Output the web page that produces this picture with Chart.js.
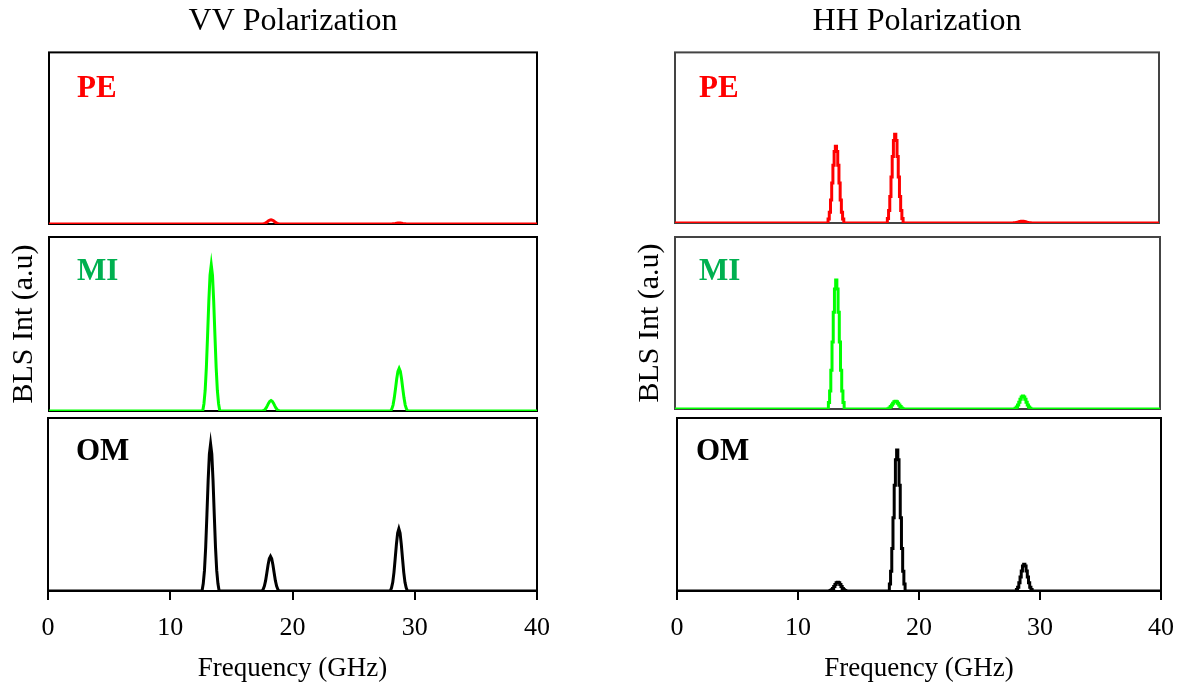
<!DOCTYPE html>
<html>
<head>
<meta charset="utf-8">
<title>BLS spectra</title>
<script src="https://cdn.jsdelivr.net/npm/chart.js@4.4.1/dist/chart.umd.min.js"></script>
<style>
  body { margin: 0; background: #fff; }
  #wrap { position: relative; width: 1184px; height: 689px; overflow: hidden; }
  .panel { position: absolute; }
</style>
</head>
<body>
<div id="wrap"></div>
<script>
// frequency grid (GHz), read around the three modes
const freq = [0,
  12.6, 12.7, 12.8, 12.9, 13.0, 13.1, 13.2, 13.3, 13.4, 13.5, 13.6, 13.7, 13.8, 13.9, 14.0,
  17.5, 17.6, 17.7, 17.8, 17.9, 18.0, 18.1, 18.2, 18.3, 18.4, 18.5, 18.6, 18.7, 18.8, 18.9,
  28.0, 28.1, 28.2, 28.3, 28.4, 28.5, 28.6, 28.7, 28.8, 28.9, 29.0, 29.1, 29.2, 29.3, 29.4,
  40];

// VV polarization (intensity, a.u. - 1 = top of panel)
const vvPE = [0,
  0, 0, 0, 0, 0, 0, 0, 0, 0, 0, 0, 0, 0, 0, 0,
  0, 0.001, 0.004, 0.008, 0.013, 0.019, 0.023, 0.025, 0.023, 0.019, 0.013, 0.008, 0.004, 0.001, 0,
  0, 0, 0.001, 0.002, 0.003, 0.005, 0.006, 0.006, 0.006, 0.005, 0.003, 0.002, 0.001, 0, 0,
  0];
const vvMI = [0,
  0, 0.042, 0.118, 0.252, 0.437, 0.63, 0.781, 0.84, 0.781, 0.63, 0.437, 0.252, 0.118, 0.042, 0,
  0, 0.003, 0.008, 0.018, 0.031, 0.045, 0.056, 0.06, 0.056, 0.045, 0.031, 0.018, 0.008, 0.003, 0,
  0, 0.012, 0.034, 0.074, 0.127, 0.184, 0.228, 0.245, 0.228, 0.184, 0.127, 0.074, 0.034, 0.012, 0,
  0];
const vvOM = [0,
  0, 0.043, 0.119, 0.255, 0.442, 0.638, 0.791, 0.85, 0.791, 0.638, 0.442, 0.255, 0.119, 0.043, 0,
  0, 0.01, 0.028, 0.06, 0.104, 0.15, 0.186, 0.2, 0.186, 0.15, 0.104, 0.06, 0.028, 0.01, 0,
  0, 0.018, 0.05, 0.108, 0.187, 0.27, 0.335, 0.36, 0.335, 0.27, 0.187, 0.108, 0.05, 0.018, 0,
  0];

// HH polarization
const hhPE = [0,
  0, 0.023, 0.063, 0.135, 0.234, 0.338, 0.419, 0.45, 0.419, 0.338, 0.234, 0.135, 0.063, 0.023, 0,
  0, 0.026, 0.073, 0.156, 0.27, 0.39, 0.484, 0.52, 0.484, 0.39, 0.27, 0.156, 0.073, 0.026, 0,
  0, 0.001, 0.001, 0.003, 0.005, 0.008, 0.009, 0.01, 0.009, 0.008, 0.005, 0.003, 0.001, 0.001, 0,
  0];
const hhMI = [0,
  0, 0.038, 0.105, 0.225, 0.39, 0.563, 0.698, 0.75, 0.698, 0.563, 0.39, 0.225, 0.105, 0.038, 0,
  0, 0.002, 0.006, 0.014, 0.023, 0.034, 0.042, 0.045, 0.042, 0.034, 0.023, 0.014, 0.006, 0.002, 0,
  0, 0.004, 0.011, 0.023, 0.039, 0.056, 0.07, 0.075, 0.07, 0.056, 0.039, 0.023, 0.011, 0.004, 0,
  0];
const hhOM = [0,
  0, 0.003, 0.007, 0.015, 0.026, 0.038, 0.047, 0.05, 0.047, 0.038, 0.026, 0.015, 0.007, 0.003, 0,
  0, 0.041, 0.114, 0.245, 0.424, 0.611, 0.758, 0.815, 0.758, 0.611, 0.424, 0.245, 0.114, 0.041, 0,
  0, 0.008, 0.022, 0.047, 0.081, 0.116, 0.144, 0.155, 0.144, 0.116, 0.081, 0.047, 0.022, 0.008, 0,
  0];

const xTicks = [0, 10, 20, 30, 40];

const serif = "'Liberation Serif', 'Times New Roman', serif";

// frame round the plot area + the PE / MI / OM tag
const panelBox = {
  id: 'panelBox',
  beforeDatasetsDraw(chart, args, o) {
    const a = chart.chartArea, ctx = chart.ctx;
    ctx.save();
    ctx.strokeStyle = o.frame;
    ctx.lineWidth = 2;
    ctx.strokeRect(a.left, a.top, a.right - a.left, a.bottom - a.top);
    ctx.restore();
  },
  afterDatasetsDraw(chart, args, o) {
    const a = chart.chartArea, ctx = chart.ctx;
    ctx.save();
    ctx.font = 'bold 31px ' + serif;
    ctx.fillStyle = o.color;
    ctx.textBaseline = 'alphabetic';
    ctx.fillText(o.text, a.left + o.dx, a.top + o.dy);
    ctx.restore();
  }
};

function panel(p) {
  const div = document.createElement('div');
  div.className = 'panel';
  div.style.left = p.x + 'px';
  div.style.top = p.y + 'px';
  div.style.width = p.w + 'px';
  div.style.height = p.h + 'px';
  const cv = document.createElement('canvas');
  div.appendChild(cv);
  document.getElementById('wrap').appendChild(div);

  new Chart(cv, {
    type: 'line',
    data: {
      datasets: [{
        data: freq.map((f, i) => ({ x: f, y: p.values[i] })),
        borderColor: p.line,
        borderWidth: 3,
        pointRadius: 0,
        tension: 0,
        stepped: p.stepped ? 'middle' : false,
        fill: false
      }]
    },
    options: {
      responsive: true,
      maintainAspectRatio: false,
      animation: false,
      layout: { padding: p.pad },
      plugins: {
        legend: { display: false },
        tooltip: { enabled: false },
        title: {
          display: !!p.title,
          text: p.title || '',
          color: '#000',
          font: { family: serif, size: 32, weight: 'normal' },
          padding: { top: 2, bottom: 12 }
        },
        panelBox: { text: p.tag, color: p.tagColor, dx: p.dx, dy: p.dy, frame: p.frame }
      },
      scales: {
        x: {
          type: 'linear',
          min: 0,
          max: 40,
          display: !!p.xAxis,
          afterBuildTicks: axis => { axis.ticks = xTicks.map(v => ({ value: v })); },
          afterFit: axis => { if (p.xAxis) axis.height = 94; },
          ticks: {
            color: '#000',
            font: { family: serif, size: 26 },
            padding: 13,
            maxRotation: 0
          },
          grid: { drawOnChartArea: false, drawTicks: true, tickLength: 9, lineWidth: 2, color: '#000' },
          border: { display: true, color: '#000', width: 2 },
          title: {
            display: true,
            text: 'Frequency (GHz)',
            color: '#000',
            font: { family: serif, size: 27 },
            padding: { top: 8, bottom: 0 }
          }
        },
        y: {
          min: 0,
          max: 1,
          display: !!p.yTitle,
          afterFit: axis => { if (p.yTitle) axis.width = 44; },
          ticks: { display: false },
          grid: { display: false },
          border: { display: false },
          title: {
            display: true,
            text: 'BLS Int (a.u)',
            color: '#000',
            font: { family: serif, size: 30 },
            padding: { top: 1, bottom: 7 }
          }
        }
      }
    },
    plugins: [panelBox]
  });
}

const RED = '#ff0000', GREEN = '#00ff00', BLACK = '#000000';

// VV column
panel({ x: 0, y: 0, w: 560, h: 232, values: vvPE, line: RED, tag: 'PE', tagColor: RED,
  dx: 28, dy: 45, frame: '#000', title: 'VV Polarization',
  pad: { left: 49, right: 23, top: 0, bottom: 8 } });
panel({ x: 0, y: 230, w: 560, h: 186, values: vvMI, line: GREEN, tag: 'MI', tagColor: '#00b050',
  dx: 28, dy: 43, frame: '#000', yTitle: true,
  pad: { left: 5, right: 23, top: 7, bottom: 5 } });
panel({ x: 0, y: 414, w: 563, h: 275, values: vvOM, line: BLACK, tag: 'OM', tagColor: BLACK,
  dx: 28, dy: 42, frame: '#000', xAxis: true,
  pad: { left: 48, right: 23, top: 4, bottom: 4 } });

// HH column
panel({ x: 600, y: 0, w: 584, h: 232, values: hhPE, line: RED, tag: 'PE', tagColor: RED,
  dx: 24, dy: 45, frame: '#444', title: 'HH Polarization', stepped: true,
  pad: { left: 75, right: 25, top: 0, bottom: 9 } });
panel({ x: 600, y: 230, w: 584, h: 186, values: hhMI, line: GREEN, tag: 'MI', tagColor: '#00b050',
  dx: 24, dy: 43, frame: '#444', yTitle: true, stepped: true,
  pad: { left: 31, right: 24, top: 7, bottom: 7 } });
panel({ x: 600, y: 414, w: 587, h: 275, values: hhOM, line: BLACK, tag: 'OM', tagColor: BLACK,
  dx: 19, dy: 42, frame: '#000', xAxis: true, stepped: true,
  pad: { left: 77, right: 24, top: 4, bottom: 4 } });
</script>
</body>
</html>
